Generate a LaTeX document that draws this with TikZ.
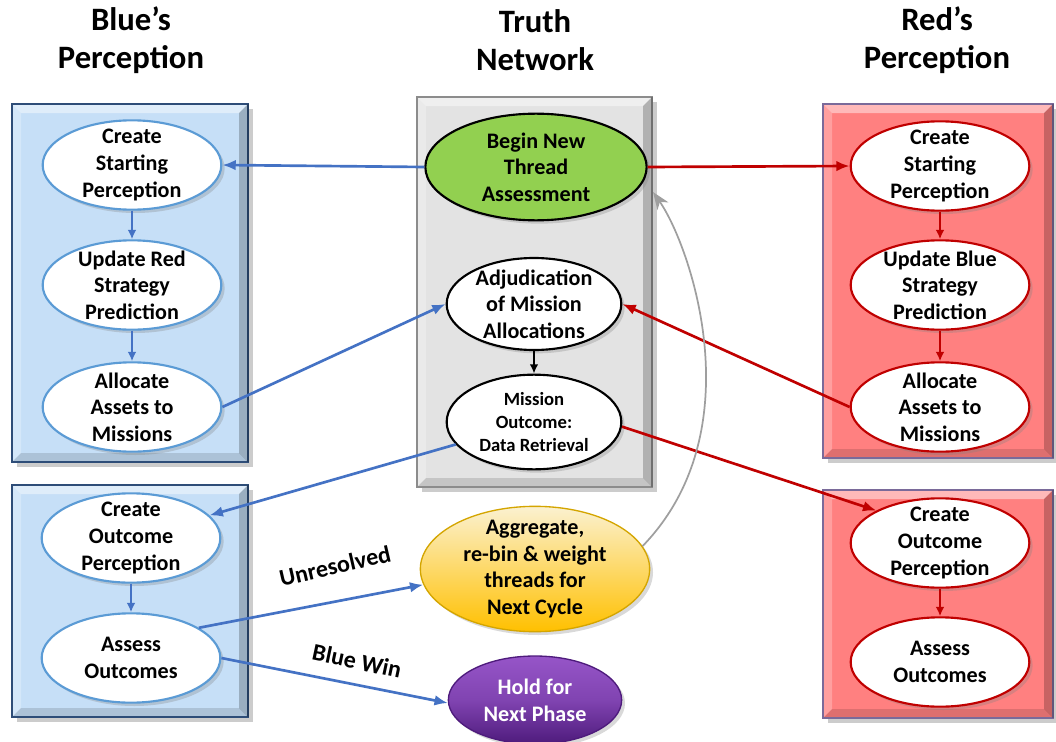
\documentclass[tikz,border=0pt]{standalone}
\usepackage{fontspec}
\setmainfont{Carlito}
\usetikzlibrary{shapes.geometric,arrows.meta,shadows,calc}
\definecolor{bluefill}{HTML}{C6DFF7}
\definecolor{blueedge}{HTML}{2E4D78}
\definecolor{blueline}{HTML}{5B9BD5}
\definecolor{bluearrow}{HTML}{4472C4}
\definecolor{redfill}{HTML}{FF8080}
\definecolor{rededge}{HTML}{7A6A9A}
\definecolor{redline}{HTML}{C00000}
\definecolor{grayfill}{HTML}{E3E3E3}
\definecolor{grayedge}{HTML}{8C8C8C}
\definecolor{greenfill}{HTML}{92D050}
\definecolor{goldtop}{HTML}{FBF1D0}
\definecolor{goldbot}{HTML}{FFC000}
\definecolor{goldedge}{HTML}{D4A500}
\definecolor{purtop}{HTML}{9655C8}
\definecolor{purbot}{HTML}{4E1B7C}
\newcommand\bevelpanel[6]{%
  \fill[#5, drop shadow={opacity=0.4, shadow xshift=4pt, shadow yshift=-4pt}] (#1,#2) rectangle (#3,#4);
  \fill[white,opacity=0.45] (#1,#2) -- (#3,#2) -- ({#3-9},{#2+9}) -- ({#1+9},{#2+9}) -- cycle;
  \fill[white,opacity=0.25] (#1,#2) -- ({#1+9},{#2+9}) -- ({#1+9},{#4-9}) -- (#1,#4) -- cycle;
  \fill[black,opacity=0.22] (#3,#2) -- (#3,#4) -- ({#3-9},{#4-9}) -- ({#3-9},{#2+9}) -- cycle;
  \fill[black,opacity=0.13] (#1,#4) -- (#3,#4) -- ({#3-9},{#4-9}) -- ({#1+9},{#4-9}) -- cycle;
  \draw[#6, line width=0.8pt] (#1,#2) rectangle (#3,#4);
  \draw[#6!80!black, line width=1.6pt] (#3,#2) -- (#3,#4);
}
\begin{document}
\begin{tikzpicture}[x=0.75pt,y=-0.75pt,
  ell/.style={ellipse, inner sep=0pt, fill=white, line width=1.6pt,
    drop shadow={opacity=0.3, shadow xshift=2.5pt, shadow yshift=-2.5pt}},
  side/.style={ell, minimum width=134pt, minimum height=67pt},
  bell/.style={side, draw=blueline},
  rell/.style={side, draw=redline},
  txt/.style={align=center, font=\fontsize{16.6}{20}\selectfont\bfseries, inner sep=0pt},
  small/.style={align=center, font=\fontsize{14}{17}\selectfont\bfseries, inner sep=0pt},
  title/.style={align=center, font=\fontsize{24.5}{28.5}\selectfont\bfseries, inner sep=0pt},
  lbl/.style={font=\fontsize{18}{20}\selectfont\bfseries, inner sep=0pt},
  barrow/.style={draw=bluearrow, line width=2pt, -{Latex[length=10pt,width=8pt]}},
  rarrow/.style={draw=redline, line width=2pt, -{Latex[length=10pt,width=8pt]}},
  bshort/.style={draw=bluearrow, line width=1.6pt, -{Latex[length=7pt,width=6.5pt]}},
  rshort/.style={draw=redline, line width=1.6pt, -{Latex[length=7pt,width=6.5pt]}},
]
\useasboundingbox (0,0) rectangle (1056,742);

% titles
\node[title] (t1) at (131,40) {Blue’s\\Perception};
\node[title] (t2) at (535,40) {Truth\\Network};
\node[title] (t3) at (937,40) {Red’s\\Perception};

% panels
\bevelpanel{12}{104}{248}{462}{bluefill}{blueedge}
\bevelpanel{12}{485}{248}{717}{bluefill}{blueedge}
\bevelpanel{417}{97}{652}{487}{grayfill}{grayedge}
\bevelpanel{823}{104}{1053}{458}{redfill}{rededge}
\bevelpanel{823}{490}{1053}{718}{redfill}{rededge}

% blue side
\node[bell] (bcs) at (132,165) {};
\node[txt] at (bcs) {Create\\Starting\\Perception};
\node[bell] (bup) at (132,285) {};
\node[txt] at (bup) {Update Red\\Strategy\\Prediction};
\node[bell] (bal) at (132,407) {};
\node[txt] at (bal) {Allocate\\Assets to\\Missions};
\node[bell] (bco) at (131,538) {};
\node[txt] at (bco) {Create\\Outcome\\Perception};
\node[bell] (bas) at (131,658) {};
\node[txt] at (bas) {Assess\\Outcomes};

% red side
\node[rell] (rcs) at (940,166) {};
\node[txt] at (rcs) {Create\\Starting\\Perception};
\node[rell] (rup) at (940,285) {};
\node[txt] at (rup) {Update Blue\\Strategy\\Prediction};
\node[rell] (ral) at (940,407) {};
\node[txt] at (ral) {Allocate\\Assets to\\Missions};
\node[rell] (rco) at (940,543) {};
\node[txt] at (rco) {Create\\Outcome\\Perception};
\node[rell] (ras) at (940,662) {};
\node[txt] at (ras) {Assess\\Outcomes};

% truth network
\node[ell, draw=black, fill=greenfill, minimum width=166pt, minimum height=80pt] (beg) at (536,167) {};
\node[txt] at (beg) {Begin New\\Thread\\Assessment};
\node[ell, draw=black, minimum width=131pt, minimum height=69pt] (adj) at (534,304) {};
\node[txt] at (adj) {Adjudication\\of Mission\\Allocations};
\node[ell, draw=black, minimum width=131pt, minimum height=71pt] (mo) at (534,422) {};
\node[small] at (mo) {Mission\\Outcome:\\Data Retrieval};

% bottom centre
\node[ell, draw=goldedge, line width=1pt, top color=goldtop, bottom color=goldbot, minimum width=172pt, minimum height=94pt] (agg) at (535,569) {};
\node[txt] at (agg) {Aggregate,\\re-bin \& weight\\threads for\\Next Cycle};
\node[ell, draw=purbot, line width=1pt, top color=purtop, bottom color=purbot, middle color=purtop!70!purbot, minimum width=130pt, minimum height=66pt] (hold) at (535,700) {};
\node[txt, text=white] at (hold) {Hold for\\Next Phase};

% internal arrows
\draw[bshort] (bcs.south) -- (bup.north);
\draw[bshort] (bup.south) -- (bal.north);
\draw[bshort] (bco.south) -- (bas.north);
\draw[rshort] (rcs.south) -- (rup.north);
\draw[rshort] (rup.south) -- (ral.north);
\draw[rshort] (rco.south) -- (ras.north);
\draw[draw=black, line width=1.6pt, -{Latex[length=7pt,width=6.5pt]}] (adj.south) -- (mo.north);

% cross arrows
\draw[barrow] (beg.west) -- (bcs.east);
\draw[rarrow] (beg.east) -- (rcs.west);
\draw[barrow] (bal.east) -- (adj.west);
\draw[rarrow] (ral.west) -- (adj.east);
\draw[barrow] (mo.196) -- (bco);
\draw[rarrow] (mo.-3) -- (rco.153);
\draw[barrow] (bas.24) -- (agg.188);
\draw[barrow] (bas.0) -- (hold.182);
\draw[draw=gray!75, line width=1.3pt, -{Stealth[length=13pt,width=10pt,inset=4pt]}]
  (agg.12) .. controls (755,430) and (690,245) .. (653,192);

% labels
\node[lbl, rotate=13] (l1) at (335,566) {Unresolved};
\node[lbl, rotate=-12] (l2) at (357,661) {Blue Win};
\end{tikzpicture}
\end{document}
